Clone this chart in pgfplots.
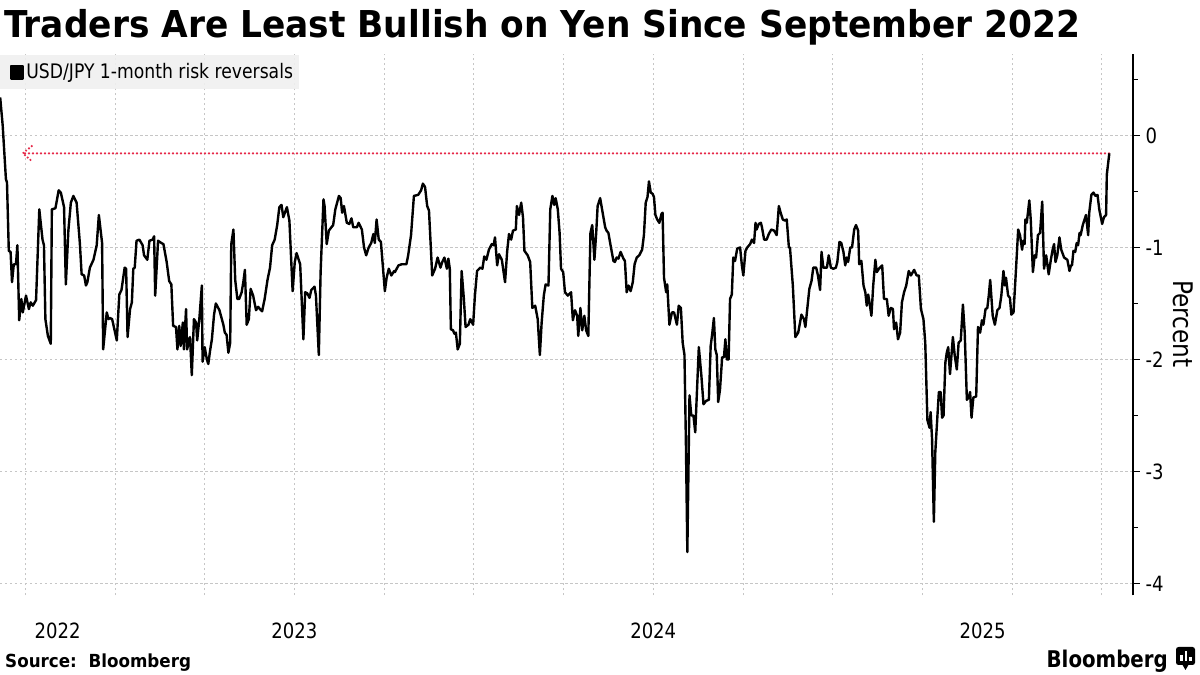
\documentclass[border=0pt]{standalone}
\usepackage{fontspec}
\setmainfont{DejaVu Sans}[FakeStretch=0.86]
\newfontfamily\widefont{DejaVu Sans}[FakeStretch=0.93]
\usepackage{pgfplots}
\pgfplotsset{compat=1.18}
\definecolor{gridgray}{RGB}{198,198,198}
\definecolor{refred}{RGB}{230,40,72}
\definecolor{legendbg}{RGB}{240,240,240}

% USD/JPY 1-month risk reversals, percent (x = fractional year)
\pgfplotstableread{
x y
2022.680 0.34
2022.687 0.09
2022.696 -0.39
2022.699 -0.42
2022.704 -1.03
2022.709 -1.04
2022.713 -1.31
2022.718 -1.15
2022.724 -1.15
2022.728 -0.98
2022.733 -1.65
2022.739 -1.46
2022.743 -1.58
2022.752 -1.43
2022.760 -1.55
2022.765 -1.49
2022.771 -1.52
2022.780 -1.47
2022.789 -0.66
2022.793 -0.78
2022.798 -0.93
2022.802 -0.98
2022.806 -1.64
2022.813 -1.79
2022.821 -1.86
2022.824 -0.66
2022.834 -0.65
2022.843 -0.49
2022.849 -0.51
2022.858 -0.64
2022.863 -1.33
2022.870 -0.85
2022.877 -0.60
2022.884 -0.54
2022.893 -0.60
2022.902 -0.96
2022.907 -1.24
2022.914 -1.25
2022.919 -1.34
2022.923 -1.31
2022.930 -1.18
2022.940 -1.11
2022.949 -0.98
2022.955 -0.71
2022.964 -0.96
2022.967 -1.91
2022.977 -1.58
2022.982 -1.64
2022.986 -1.63
2022.992 -1.64
2023.005 -1.83
2023.012 -1.42
2023.018 -1.38
2023.027 -1.18
2023.031 -1.19
2023.035 -1.80
2023.042 -1.55
2023.047 -1.49
2023.051 -1.19
2023.055 -1.18
2023.060 -0.94
2023.068 -0.93
2023.077 -0.98
2023.081 -1.07
2023.090 -1.11
2023.096 -0.94
2023.105 -0.93
2023.109 -0.90
2023.112 -1.43
2023.120 -0.94
2023.129 -0.96
2023.135 -0.97
2023.144 -1.13
2023.151 -1.30
2023.157 -1.33
2023.162 -1.70
2023.170 -1.71
2023.174 -1.91
2023.179 -1.70
2023.183 -1.88
2023.189 -1.67
2023.192 -1.91
2023.198 -1.55
2023.201 -1.91
2023.207 -1.82
2023.209 -1.80
2023.214 -2.14
2023.220 -1.64
2023.226 -1.67
2023.229 -1.83
2023.235 -1.64
2023.242 -1.34
2023.244 -2.02
2023.250 -1.89
2023.256 -2.00
2023.260 -2.04
2023.265 -1.92
2023.270 -1.82
2023.276 -1.60
2023.281 -1.50
2023.291 -1.56
2023.302 -1.69
2023.306 -1.76
2023.311 -1.78
2023.316 -1.94
2023.321 -1.85
2023.324 -0.97
2023.330 -0.84
2023.335 -1.29
2023.341 -1.46
2023.346 -1.46
2023.353 -1.40
2023.358 -1.30
2023.362 -1.20
2023.367 -1.69
2023.373 -1.64
2023.378 -1.37
2023.385 -1.43
2023.393 -1.56
2023.399 -1.53
2023.404 -1.55
2023.410 -1.57
2023.417 -1.46
2023.425 -1.29
2023.432 -1.18
2023.438 -0.98
2023.445 -0.93
2023.452 -0.80
2023.458 -0.64
2023.464 -0.62
2023.469 -0.73
2023.479 -0.64
2023.486 -0.76
2023.495 -1.39
2023.501 -1.13
2023.506 -1.05
2023.516 -1.15
2023.525 -1.82
2023.530 -1.40
2023.536 -1.41
2023.542 -1.45
2023.547 -1.38
2023.556 -1.35
2023.560 -1.43
2023.568 -1.96
2023.573 -1.22
2023.581 -0.57
2023.584 -0.63
2023.590 -0.97
2023.596 -0.85
2023.603 -0.82
2023.608 -0.80
2023.614 -0.66
2023.624 -0.54
2023.629 -0.56
2023.633 -0.69
2023.638 -0.63
2023.646 -0.78
2023.653 -0.79
2023.659 -0.74
2023.664 -0.82
2023.674 -0.82
2023.679 -0.78
2023.688 -0.84
2023.694 -1.00
2023.700 -1.07
2023.707 -1.00
2023.714 -0.96
2023.720 -0.88
2023.724 -0.96
2023.729 -0.75
2023.735 -0.93
2023.741 -0.95
2023.746 -1.15
2023.752 -1.39
2023.757 -1.27
2023.763 -1.19
2023.770 -1.25
2023.778 -1.21
2023.780 -1.22
2023.790 -1.16
2023.799 -1.15
2023.812 -1.15
2023.817 -1.07
2023.825 -0.89
2023.833 -0.54
2023.845 -0.53
2023.853 -0.49
2023.858 -0.43
2023.864 -0.46
2023.870 -0.63
2023.875 -0.67
2023.884 -1.25
2023.892 -1.19
2023.899 -1.09
2023.907 -1.18
2023.912 -1.13
2023.918 -1.09
2023.925 -1.19
2023.929 -1.10
2023.933 -1.19
2023.936 -1.73
2023.942 -1.74
2023.946 -1.77
2023.950 -1.76
2023.955 -1.91
2023.961 -1.86
2023.966 -1.21
2023.972 -1.45
2023.977 -1.71
2023.985 -1.69
2023.990 -1.64
2023.998 -1.69
2024.003 -1.43
2024.009 -1.21
2024.018 -1.18
2024.024 -1.19
2024.029 -1.08
2024.035 -1.11
2024.042 -1.02
2024.050 -0.97
2024.055 -0.98
2024.059 -0.91
2024.065 -1.16
2024.070 -1.06
2024.078 -1.11
2024.087 -1.31
2024.093 -1.03
2024.098 -0.88
2024.104 -0.93
2024.109 -0.85
2024.117 -0.84
2024.120 -0.63
2024.126 -0.71
2024.132 -0.60
2024.137 -0.73
2024.141 -1.03
2024.150 -1.07
2024.157 -1.13
2024.163 -1.54
2024.171 -1.52
2024.178 -1.64
2024.184 -1.96
2024.189 -1.67
2024.195 -1.43
2024.200 -1.33
2024.208 -1.34
2024.213 -0.66
2024.219 -0.54
2024.224 -0.62
2024.228 -0.56
2024.234 -0.66
2024.239 -0.87
2024.243 -1.19
2024.249 -1.22
2024.254 -1.40
2024.262 -1.43
2024.271 -1.40
2024.276 -1.65
2024.282 -1.56
2024.288 -1.61
2024.291 -1.79
2024.297 -1.54
2024.302 -1.74
2024.308 -1.61
2024.313 -1.74
2024.319 -1.79
2024.325 -0.87
2024.330 -0.80
2024.336 -1.11
2024.341 -0.87
2024.345 -0.63
2024.352 -0.56
2024.366 -0.82
2024.370 -0.85
2024.375 -0.87
2024.381 -0.98
2024.389 -1.12
2024.393 -1.13
2024.398 -1.09
2024.403 -1.10
2024.409 -1.04
2024.417 -1.10
2024.421 -1.12
2024.426 -1.40
2024.431 -1.34
2024.437 -1.39
2024.443 -1.31
2024.448 -1.15
2024.454 -1.09
2024.461 -1.07
2024.469 -1.02
2024.474 -0.89
2024.479 -0.60
2024.484 -0.55
2024.488 -0.41
2024.493 -0.51
2024.498 -0.52
2024.502 -0.55
2024.506 -0.71
2024.511 -0.75
2024.517 -0.78
2024.523 -0.70
2024.526 -0.69
2024.530 -1.27
2024.536 -1.40
2024.539 -1.33
2024.545 -1.69
2024.552 -1.58
2024.558 -1.58
2024.566 -1.69
2024.571 -1.52
2024.577 -1.54
2024.582 -1.85
2024.587 -1.96
2024.591 -2.74
2024.595 -3.72
2024.601 -2.32
2024.606 -2.50
2024.612 -2.50
2024.617 -2.65
2024.627 -1.89
2024.634 -2.14
2024.640 -2.40
2024.647 -2.37
2024.655 -2.36
2024.660 -1.88
2024.664 -1.78
2024.669 -1.63
2024.673 -1.91
2024.677 -1.96
2024.681 -2.38
2024.686 -2.27
2024.692 -1.98
2024.697 -1.98
2024.701 -1.82
2024.705 -2.00
2024.710 -2.00
2024.714 -1.46
2024.719 -1.42
2024.723 -1.09
2024.728 -1.12
2024.734 -1.01
2024.742 -1.00
2024.747 -1.16
2024.751 -1.25
2024.757 -1.03
2024.762 -1.00
2024.770 -0.97
2024.775 -0.93
2024.781 -0.96
2024.785 -0.78
2024.788 -0.84
2024.794 -0.79
2024.800 -0.78
2024.803 -0.82
2024.809 -0.93
2024.816 -0.93
2024.822 -0.88
2024.829 -0.84
2024.837 -0.85
2024.844 -0.89
2024.850 -0.63
2024.855 -0.69
2024.861 -0.75
2024.867 -0.76
2024.872 -0.75
2024.878 -1.00
2024.881 -1.00
2024.889 -1.34
2024.896 -1.80
2024.904 -1.76
2024.913 -1.60
2024.920 -1.64
2024.924 -1.71
2024.935 -1.37
2024.941 -1.30
2024.946 -1.18
2024.954 -1.18
2024.959 -1.25
2024.965 -1.38
2024.969 -1.04
2024.974 -1.18
2024.984 -1.18
2024.989 -1.07
2024.995 -1.18
2025.002 -1.19
2025.009 -1.18
2025.013 -1.13
2025.019 -0.95
2025.024 -0.96
2025.030 -1.04
2025.035 -1.16
2025.039 -1.09
2025.043 -1.13
2025.049 -1.00
2025.054 -1.00
2025.060 -0.84
2025.065 -0.80
2025.071 -0.85
2025.074 -1.15
2025.080 -1.12
2025.086 -1.34
2025.091 -1.40
2025.095 -1.52
2025.099 -1.42
2025.104 -1.52
2025.108 -1.61
2025.113 -1.34
2025.119 -1.11
2025.123 -1.22
2025.129 -1.19
2025.138 -1.16
2025.143 -1.46
2025.151 -1.46
2025.156 -1.61
2025.162 -1.54
2025.168 -1.55
2025.171 -1.73
2025.177 -1.67
2025.182 -1.82
2025.188 -1.76
2025.193 -1.49
2025.199 -1.40
2025.205 -1.34
2025.212 -1.21
2025.218 -1.25
2025.227 -1.20
2025.234 -1.25
2025.240 -1.25
2025.246 -1.55
2025.253 -1.64
2025.258 -1.85
2025.264 -2.54
2025.270 -2.61
2025.273 -2.47
2025.277 -2.71
2025.282 -3.45
2025.286 -2.83
2025.292 -2.50
2025.296 -2.29
2025.301 -2.29
2025.305 -2.52
2025.309 -2.50
2025.314 -2.03
2025.318 -1.94
2025.322 -1.89
2025.327 -2.13
2025.335 -1.80
2025.340 -1.96
2025.346 -2.09
2025.351 -1.85
2025.357 -1.83
2025.363 -1.51
2025.368 -1.76
2025.374 -2.36
2025.379 -2.34
2025.383 -2.29
2025.387 -2.52
2025.392 -2.34
2025.400 -2.33
2025.405 -1.71
2025.411 -1.76
2025.416 -1.65
2025.420 -1.69
2025.426 -1.55
2025.431 -1.54
2025.435 -1.43
2025.439 -1.29
2025.446 -1.61
2025.452 -1.69
2025.459 -1.56
2025.465 -1.54
2025.470 -1.43
2025.476 -1.21
2025.480 -1.34
2025.483 -1.27
2025.489 -1.43
2025.494 -1.45
2025.498 -1.60
2025.504 -1.58
2025.508 -1.36
2025.511 -1.19
2025.517 -0.84
2025.522 -0.89
2025.528 -1.02
2025.531 -0.94
2025.535 -0.97
2025.537 -0.75
2025.541 -0.78
2025.548 -0.58
2025.552 -0.75
2025.558 -1.22
2025.563 -1.07
2025.567 -1.09
2025.572 -0.89
2025.578 -0.87
2025.584 -0.59
2025.589 -1.19
2025.595 -1.07
2025.602 -1.24
2025.608 -1.11
2025.613 -1.02
2025.617 -0.97
2025.621 -1.13
2025.626 -1.07
2025.632 -0.91
2025.637 -1.02
2025.645 -1.09
2025.654 -1.11
2025.660 -1.21
2025.664 -1.16
2025.667 -1.16
2025.671 -1.03
2025.676 -1.04
2025.680 -0.96
2025.684 -0.98
2025.688 -0.87
2025.691 -0.89
2025.697 -0.80
2025.706 -0.71
2025.712 -0.89
2025.715 -0.69
2025.721 -0.53
2025.727 -0.51
2025.732 -0.54
2025.738 -0.53
2025.743 -0.66
2025.751 -0.79
2025.756 -0.73
2025.762 -0.71
2025.764 -0.35
2025.768 -0.24
2025.771 -0.16
}\riskrev

\begin{document}
\begin{tikzpicture}[x=1pt,y=1pt]
\path[use as bounding box] (0,0) rectangle (1200,675);

\node[anchor=base west, inner sep=0, font=\fontsize{37}{40}\selectfont\widefont\bfseries]
  at (4,637) {Traders Are Least Bullish on Yen Since September 2022};

\begin{axis}[
  at={(0,71)}, anchor=south west,
  scale only axis, width=1133pt, height=541pt,
  xmin=2022.6795, xmax=2025.837,
  ymin=-4.107, ymax=0.723,
  separate axis lines,
  axis x line*=bottom, x axis line style={draw=none},
  axis y line*=right, y axis line style={black, line width=1.1pt},
  xtick={2022.84,2023.5,2024.5,2025.418},
  xticklabels={2022,2023,2024,2025},
  minor xtick={2022.75,2023,2023.25,2023.5,2023.75,2024,2024.25,2024.5,2024.75,2025,2025.25,2025.5,2025.75},
  xtick style={draw=none},
  xminorgrids=true,
  ytick={-4,-3,-2,-1,0},
  yticklabels={-4,-3,-2,-1,0},
  minor ytick={-3.5,-2.5,-1.5,-0.5,0.5},
  ymajorgrids=true,
  ytick style={black, line width=1.1pt},
  tick align=outside,
  major tick length=7pt, minor tick length=5pt,
  grid style={gridgray, line width=0.7pt, dash pattern=on 2.5pt off 2.5pt},
  tick label style={font=\fontsize{21}{24}\selectfont},
  xticklabel style={yshift=-17pt},
  yticklabel style={xshift=2pt},
  legend style={at={(0,1)}, anchor=north west, draw=none, fill=legendbg,
    fill opacity=0.9, text opacity=1, inner xsep=4pt, inner ysep=7pt,
    nodes={inner sep=2pt},
    font=\fontsize{20}{23}\selectfont},
  legend cell align=left,
  legend image code/.code={\path[draw=none, fill=none] (0pt,0pt) -- (20pt,0pt);
    \fill[black, fill opacity=1] (7pt,-6.5pt) rectangle (19pt,6pt);},
]
\addplot[refred, line width=2.6pt, line cap=round, dash pattern=on 0pt off 4pt, forget plot]
  coordinates {(2022.749,-0.16) (2025.773,-0.16)};
\addplot[refred, line width=2.4pt, line cap=round, dash pattern=on 0pt off 3.6pt, forget plot]
  coordinates {(2022.768,-0.095) (2022.743,-0.16) (2022.765,-0.22)};
\addplot[black, line width=2.4pt, line join=round] table {\riskrev};
\addlegendentry{USD/JPY 1-month risk reversals}
\end{axis}

\node[rotate=-90, font=\fontsize{27}{30}\selectfont] at (1183,351) {Percent};

\node[anchor=base west, inner sep=0, font=\fontsize{18}{20}\selectfont\widefont\bfseries]
  at (5,7) {Source:\ \ Bloomberg};
\node[anchor=base east, inner sep=0, font=\fontsize{23}{26}\selectfont\bfseries]
  at (1168,8) {Bloomberg};
\fill[black, rounded corners=2.5pt] (1176,10) rectangle (1195,28);
\fill[black] (1182,11) -- (1185.5,5) -- (1189,11) -- cycle;
\fill[white] (1180,14) rectangle (1182.5,20);
\fill[white] (1184.5,14) rectangle (1187,24);
\fill[white] (1189,14) rectangle (1191.5,18);
\end{tikzpicture}
\end{document}
